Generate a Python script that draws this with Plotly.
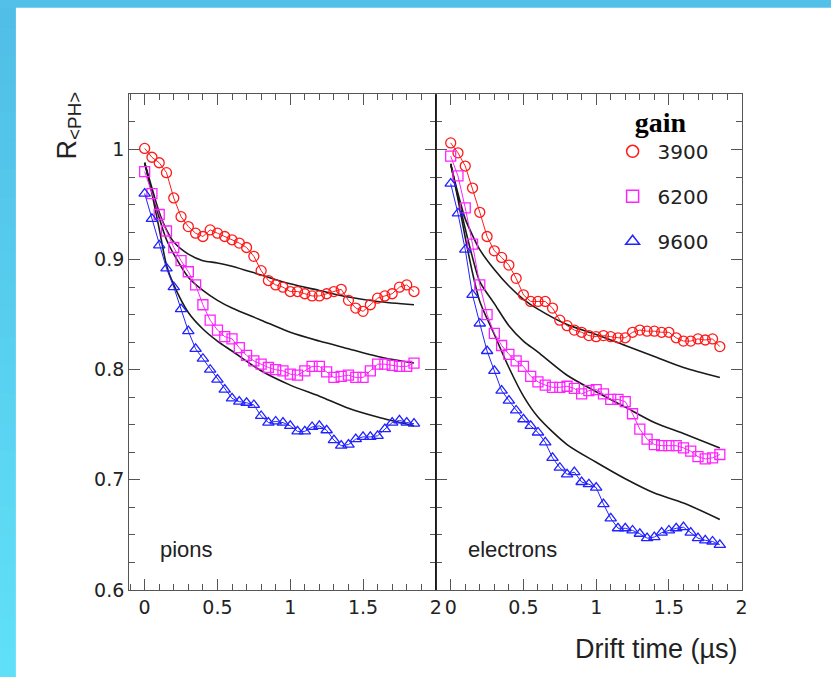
import plotly.graph_objects as go

# ---------------- data ----------------
times = [0.00, 0.05, 0.10, 0.15, 0.20, 0.25, 0.30, 0.35, 0.40, 0.45,
         0.50, 0.55, 0.60, 0.65, 0.70, 0.75, 0.80, 0.85, 0.90, 0.95,
         1.00, 1.05, 1.10, 1.15, 1.20, 1.25, 1.30, 1.35, 1.40, 1.45,
         1.50, 1.55, 1.60, 1.65, 1.70, 1.75, 1.80, 1.85]

gains = ["3900", "6200", "9600"]

pions_3900 = [1.001, 0.993, 0.988, 0.979, 0.956, 0.939, 0.930, 0.924, 0.921, 0.927,
              0.924, 0.921, 0.918, 0.915, 0.911, 0.903, 0.890, 0.881, 0.877, 0.875,
              0.871, 0.871, 0.869, 0.867, 0.867, 0.869, 0.871, 0.873, 0.863, 0.856,
              0.853, 0.859, 0.865, 0.867, 0.869, 0.875, 0.877, 0.871]
pions_6200 = [0.980, 0.960, 0.941, 0.926, 0.911, 0.899, 0.889, 0.877, 0.859, 0.845,
              0.836, 0.830, 0.828, 0.820, 0.813, 0.808, 0.805, 0.802, 0.800, 0.799,
              0.796, 0.795, 0.799, 0.803, 0.803, 0.798, 0.793, 0.794, 0.795, 0.793,
              0.793, 0.799, 0.805, 0.805, 0.804, 0.803, 0.803, 0.806]
pions_9600 = [0.960, 0.937, 0.913, 0.892, 0.875, 0.855, 0.835, 0.819, 0.810, 0.800,
              0.791, 0.782, 0.774, 0.771, 0.770, 0.768, 0.758, 0.752, 0.753, 0.752,
              0.749, 0.744, 0.744, 0.748, 0.749, 0.745, 0.736, 0.731, 0.732, 0.737,
              0.739, 0.739, 0.740, 0.746, 0.752, 0.754, 0.752, 0.751]

elec_3900 = [1.006, 0.997, 0.985, 0.965, 0.943, 0.921, 0.908, 0.902, 0.895, 0.883,
             0.868, 0.862, 0.862, 0.862, 0.856, 0.845, 0.840, 0.836, 0.834, 0.831,
             0.830, 0.831, 0.830, 0.829, 0.829, 0.834, 0.836, 0.835, 0.835, 0.834,
             0.834, 0.829, 0.826, 0.826, 0.828, 0.827, 0.828, 0.821]
elec_6200 = [0.994, 0.976, 0.947, 0.914, 0.877, 0.850, 0.833, 0.822, 0.814, 0.808,
             0.803, 0.794, 0.789, 0.786, 0.784, 0.784, 0.785, 0.783, 0.778, 0.781,
             0.782, 0.778, 0.773, 0.773, 0.771, 0.760, 0.746, 0.737, 0.732, 0.731,
             0.731, 0.731, 0.729, 0.726, 0.721, 0.719, 0.720, 0.723]
elec_9600 = [0.969, 0.942, 0.909, 0.868, 0.842, 0.817, 0.799, 0.781, 0.772, 0.763,
             0.755, 0.749, 0.743, 0.734, 0.720, 0.711, 0.705, 0.707, 0.698, 0.696,
             0.693, 0.678, 0.665, 0.656, 0.656, 0.654, 0.651, 0.647, 0.648, 0.652,
             0.654, 0.656, 0.657, 0.652, 0.647, 0.645, 0.644, 0.641]

# simulation curves (black lines)
model_times = [0.00, 0.05, 0.10, 0.15, 0.20, 0.30, 0.40, 0.50, 0.60, 0.80,
               1.00, 1.20, 1.40, 1.60, 1.85]
pions_model_3900 = [0.988, 0.965, 0.943, 0.927, 0.916, 0.905, 0.899, 0.897, 0.894, 0.886,
                    0.878, 0.872, 0.866, 0.862, 0.859]
pions_model_6200 = [0.988, 0.962, 0.938, 0.918, 0.905, 0.884, 0.872, 0.863, 0.856, 0.845,
                    0.834, 0.826, 0.819, 0.812, 0.806]
pions_model_9600 = [0.988, 0.960, 0.928, 0.895, 0.877, 0.852, 0.837, 0.826, 0.817, 0.799,
                    0.786, 0.776, 0.765, 0.757, 0.749]
elec_model_3900 = [0.987, 0.960, 0.937, 0.922, 0.909, 0.891, 0.876, 0.864, 0.855, 0.841,
                   0.832, 0.822, 0.812, 0.802, 0.793]
elec_model_6200 = [0.987, 0.957, 0.928, 0.902, 0.880, 0.860, 0.840, 0.826, 0.816, 0.795,
                   0.780, 0.766, 0.752, 0.742, 0.729]
elec_model_9600 = [0.987, 0.955, 0.920, 0.888, 0.862, 0.832, 0.802, 0.776, 0.757, 0.732,
                   0.716, 0.701, 0.688, 0.679, 0.664]

x_tickvals = [0, 0.5, 1, 1.5, 2]
x_ticktext = ["0", "0.5", "1", "1.5", "2"]
y_tickvals = [0.6, 0.7, 0.8, 0.9, 1.0]
y_ticktext = ["0.6", "0.7", "0.8", "0.9", "1"]

# ---------------- style ----------------
W, H = 837, 688
colors = ["#ff1a1a", "#ff22ff", "#2222ff"]
symbols = ["circle-open", "square-open", "triangle-up-open"]
msize = 10

fig = go.Figure()

panels = [
    ("x", "y", [pions_3900, pions_6200, pions_9600],
     [pions_model_3900, pions_model_6200, pions_model_9600]),
    ("x2", "y2", [elec_3900, elec_6200, elec_9600],
     [elec_model_3900, elec_model_6200, elec_model_9600]),
]

for xa, ya, series, models in panels:
    for m in models:
        fig.add_trace(go.Scatter(
            x=model_times, y=m, mode="lines", xaxis=xa, yaxis=ya,
            line=dict(color="#1a1a1a", width=1.6, shape="spline", smoothing=0.8),
            showlegend=False, hoverinfo="skip"))
    for s, c, sym in zip(series, colors, symbols):
        fig.add_trace(go.Scatter(
            x=times, y=s, mode="lines+markers", xaxis=xa, yaxis=ya,
            line=dict(color=c, width=1),
            marker=dict(symbol=sym, size=msize, color=c, line=dict(color=c, width=1.3)),
            showlegend=False))

# legend-only entries
for g, c, sym in zip(gains, colors, symbols):
    fig.add_trace(go.Scatter(
        x=[None], y=[None], mode="markers", name=g, legendgroup=g,
        marker=dict(symbol=sym, size=12, color=c, line=dict(color=c, width=1.5)),
        xaxis="x2", yaxis="y2"))

frame = "#555555"
tickfont = dict(family="DejaVu Sans", size=19, color="#222222")

x0, xm, x1 = 130 / W, 439 / W, 747 / W
y0, y1 = (H - 599.5) / H, (H - 96) / H

common_x = dict(
    tickmode="array", tickvals=x_tickvals, ticktext=x_ticktext,
    ticks="inside", ticklen=11, tickcolor=frame, tickwidth=1,
    showline=True, linecolor=frame, linewidth=1, mirror="allticks",
    showgrid=False, zeroline=False, tickfont=tickfont,
    minor=dict(dtick=0.1, tick0=0, ticks="inside", ticklen=6, tickcolor=frame, showgrid=False),
)
common_y = dict(
    tickmode="array", tickvals=y_tickvals, ticktext=y_ticktext,
    range=[0.6, 1.05],
    ticks="inside", ticklen=11, tickcolor=frame, tickwidth=1,
    showline=True, linecolor=frame, linewidth=1, mirror="allticks",
    showgrid=False, zeroline=False, tickfont=tickfont,
    minor=dict(dtick=0.025, tick0=0.6, ticks="inside", ticklen=6, tickcolor=frame, showgrid=False),
)

fig.update_layout(
    width=W, height=H,
    margin=dict(l=0, r=0, t=0, b=0),
    paper_bgcolor="white", plot_bgcolor="white",
    xaxis=dict(domain=[x0, xm], range=[-0.107, 2.0], anchor="y", **common_x),
    xaxis2=dict(domain=[xm, x1], range=[-0.102, 2.0], anchor="y2", **common_x),
    yaxis=dict(domain=[y0, y1], anchor="x", **common_y),
    yaxis2=dict(domain=[y0, y1], anchor="x2", matches="y", showticklabels=False, **common_y),
    legend=dict(
        x=612 / W, y=(H - 97) / H, xanchor="left", yanchor="top",
        bgcolor="rgba(0,0,0,0)", borderwidth=0, itemwidth=40,
        title=dict(text="<b>gain</b>", side="top center",
                   font=dict(family="Liberation Serif", size=28, color="black")),
        font=dict(family="DejaVu Sans", size=20, color="#222222"),
        tracegroupgap=16, traceorder="grouped",
    ),
    showlegend=True,
)

# slide background strips (gradient)
n = 24
c_top = (0x50, 0xBE, 0xE7)
c_bot = (0x60, 0xE0, 0xF8)
shapes = []
for i in range(n):
    t = i / (n - 1)
    col = "rgb(%d,%d,%d)" % tuple(round(a + (b - a) * t) for a, b in zip(c_top, c_bot))
    shapes.append(dict(type="rect", xref="paper", yref="paper", layer="below",
                       x0=0, x1=16 / W, y0=1 - (i + 1) / n, y1=1 - i / n + 0.001,
                       line=dict(width=0), fillcolor=col))
shapes.append(dict(type="rect", xref="paper", yref="paper", layer="below",
                   x0=0, x1=1, y0=1 - 8 / H, y1=1, line=dict(width=0),
                   fillcolor="rgb(82,192,232)"))
# panel divider
shapes.append(dict(type="line", xref="paper", yref="paper",
                   x0=xm, x1=xm, y0=y0, y1=y1, line=dict(color="#111111", width=1.5)))
fig.update_layout(shapes=shapes)

label_font = dict(family="Liberation Sans", size=22, color="#222222")
fig.add_annotation(text="pions", xref="paper", yref="paper", x=159 / W, y=(H - 558) / H,
                   xanchor="left", yanchor="middle", showarrow=False, font=label_font)
fig.add_annotation(text="electrons", xref="paper", yref="paper", x=469 / W, y=(H - 558) / H,
                   xanchor="left", yanchor="middle", showarrow=False, font=label_font)
fig.add_annotation(text="Drift time (µs)", xref="paper", yref="paper", x=745 / W, y=(H - 660) / H,
                   xanchor="right", yanchor="middle", showarrow=False,
                   font=dict(family="Liberation Sans", size=27, color="#222222"))
fig.add_annotation(text="R<sub>&lt;PH&gt;</sub>", xref="paper", yref="paper", x=69 / W, y=(H - 128) / H,
                   xanchor="center", yanchor="middle", showarrow=False, textangle=-90,
                   font=dict(family="Liberation Sans", size=27, color="#222222"))

fig.write_html("out.html")
